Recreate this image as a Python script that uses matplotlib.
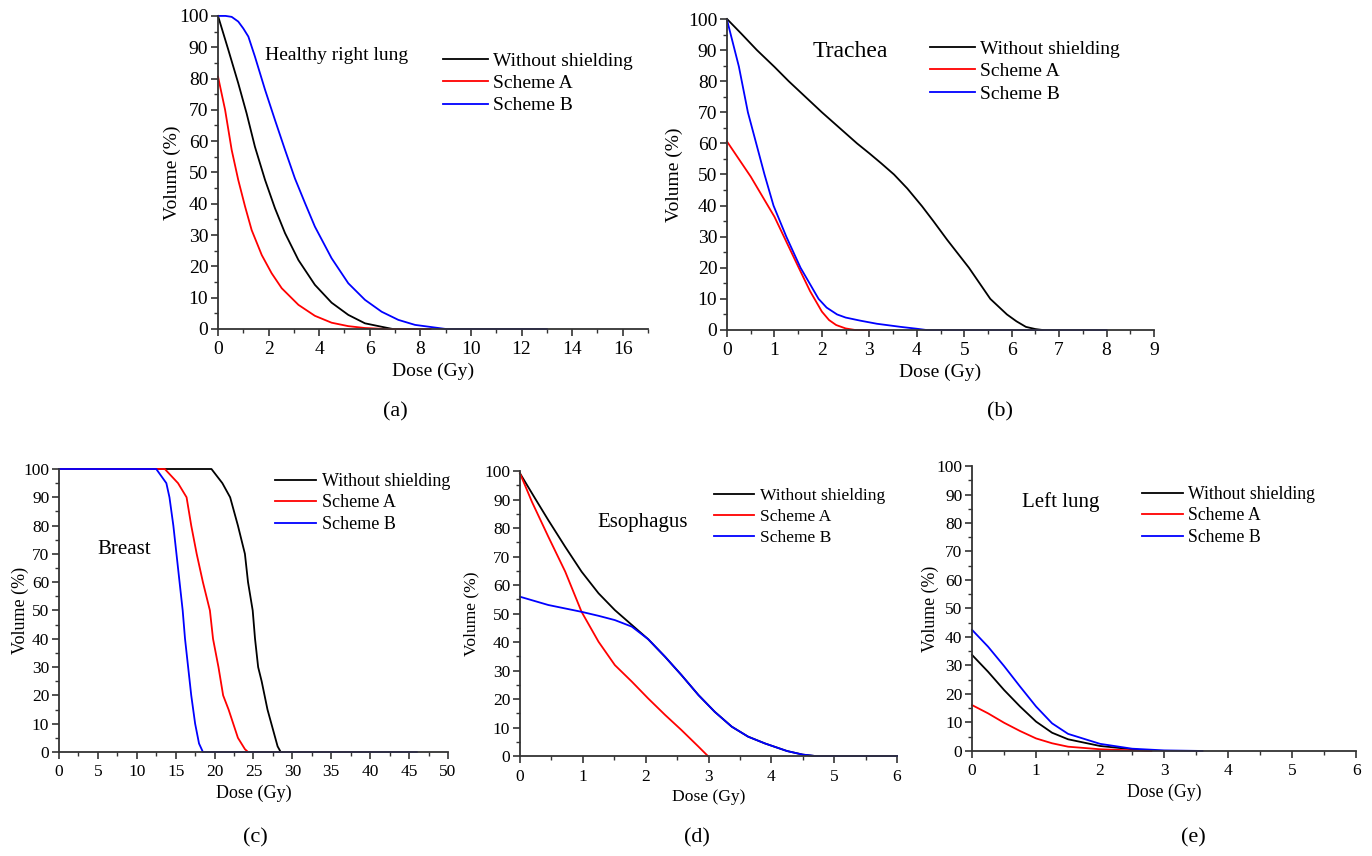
import matplotlib.pyplot as plt
from matplotlib.ticker import MultipleLocator

plt.rcParams['font.family'] = ['Liberation Serif', 'DejaVu Serif']

LABELS = ["Without shielding", "Scheme A", "Scheme B"]
COLORS = ["black", "red", "blue"]

# (a) Healthy right lung
a_dose_none = [0, 0.41, 0.80, 1.13, 1.46, 1.86, 2.25, 2.65, 3.18, 3.83, 4.49, 5.15, 5.81, 6.47, 6.9]
a_vol_none = [100, 89.1, 78.5, 68.9, 58.2, 47.6, 38.6, 30.6, 22, 14.1, 8.4, 4.5, 1.8, 0.7, 0]
a_dose_a = [0, 0.28, 0.54, 0.80, 1.07, 1.33, 1.73, 2.12, 2.52, 3.18, 3.83, 4.49, 5.15, 5.81, 6.6, 8.4]
a_vol_a = [80.6, 70, 57.2, 47.6, 39.1, 31.6, 23.6, 17.8, 13, 7.7, 4.2, 2.0, 0.9, 0.3, 0, 0]
a_dose_b = [0, 0.3, 0.54, 0.80, 1.0, 1.2, 1.46, 1.86, 2.25, 2.65, 3.04, 3.44, 3.83, 4.49,
            5.15, 5.81, 6.47, 7.13, 7.79, 8.44, 9.0, 13.0]
a_vol_b = [100, 100, 99.7, 98.2, 96, 93.4, 87, 76.4, 66.8, 57.2, 48.1, 40.2, 32.7, 22.6,
           14.6, 9.3, 5.5, 2.9, 1.3, 0.6, 0, 0]

# (b) Trachea
b_dose_none = [0, 0.3, 0.63, 1.0, 1.3, 1.65, 2.0, 2.74, 3.0, 3.25, 3.52, 3.8, 4.11, 4.35,
               4.64, 5.1, 5.55, 5.9, 6.1, 6.3, 6.5, 6.65]
b_vol_none = [100, 95.3, 90, 84.6, 80, 75, 70, 60, 56.8, 53.6, 50.0, 45.5, 39.8, 35,
              29, 20, 10, 5, 2.8, 1, 0.3, 0]
b_dose_a = [0, 0.5, 1, 1.5, 1.75, 2, 2.15, 2.3, 2.5, 2.7, 3.0]
b_vol_a = [60.6, 49.3, 36.4, 20.4, 12.5, 5.9, 3.2, 1.6, 0.5, 0, 0]
b_dose_b = [0, 0.25, 0.44, 0.79, 0.98, 1.25, 1.55, 1.93, 2.1, 2.32, 2.5, 2.81, 3.16, 3.66, 4.0, 4.2, 8.0]
b_vol_b = [99.7, 84.7, 70, 50, 40, 30, 20, 10, 7.2, 5, 4.0, 3, 2, 1, 0.4, 0, 0]

# (c) Breast
c_dose_none = [0, 19.6, 21.0, 22.0, 23.0, 23.9, 24.3, 24.9, 25.2, 25.6, 26.05, 26.8, 27.3, 27.8, 28.1, 28.5, 40]
c_vol_none = [100, 100, 95, 90, 80, 70, 60, 50, 40, 30, 25, 15, 10, 5, 2, 0, 0]
c_dose_a = [0, 13.6, 15.3, 16.4, 17.0, 17.7, 18.5, 19.4, 19.8, 20.5, 21.1, 21.8, 22.4, 23.0, 23.9, 24.3, 40]
c_vol_a = [100, 100, 95, 90, 80, 70, 60, 50, 40, 30, 20, 15, 10, 5, 1, 0, 0]
c_dose_b = [0, 12.5, 13.8, 14.2, 14.7, 15.1, 15.5, 15.9, 16.2, 16.6, 17.0, 17.5, 18.0, 18.5, 46]
c_vol_b = [100, 100, 95, 90, 80, 70, 60, 50, 40, 30, 20, 10, 3, 0, 0]

# (d) Esophagus
d_dose_none = [0, 0.24, 0.45, 0.72, 0.98, 1.25, 1.51, 1.78, 2.04, 2.31, 2.57, 2.84, 3.10,
               3.37, 3.63, 3.90, 4.25, 4.5, 4.7, 6]
d_vol_none = [99.2, 90.4, 82.8, 73.4, 64.7, 57.1, 51.2, 46, 41.0, 34.8, 28.4, 21.4, 15.5,
              10.3, 6.8, 4.4, 1.75, 0.5, 0, 0]
d_dose_a = [0, 0.19, 0.45, 0.72, 0.98, 1.25, 1.51, 1.78, 2.04, 2.31, 2.57, 2.84, 2.99]
d_vol_a = [99.2, 89.2, 77, 64.7, 50.6, 40.1, 31.9, 26.1, 20.2, 14.4, 9.1, 3.3, 0]
d_dose_b = [0, 0.45, 0.98, 1.25, 1.51, 1.78, 2.04, 2.31, 2.57, 2.84, 3.10, 3.37, 3.63,
            3.90, 4.25, 4.5, 4.7, 6]
d_vol_b = [55.9, 53, 50.6, 49.2, 47.7, 45.4, 41.0, 34.8, 28.4, 21.4, 15.5, 10.3, 6.8,
           4.4, 1.75, 0.5, 0, 0]

# (e) Left lung
e_dose_none = [0, 0.25, 0.5, 0.75, 1, 1.25, 1.5, 2, 2.5, 2.8]
e_vol_none = [33.7, 27.8, 21.4, 15.6, 10.3, 6.4, 4.1, 1.75, 0.6, 0]
e_dose_a = [0, 0.25, 0.5, 0.75, 1, 1.25, 1.5, 2, 2.5, 2.8]
e_vol_a = [16.1, 13.2, 9.9, 7.0, 4.4, 2.7, 1.5, 0.6, 0.2, 0]
e_dose_b = [0, 0.25, 0.5, 0.75, 1, 1.25, 1.5, 2, 2.5, 3, 3.6]
e_vol_b = [42.5, 36.6, 29.8, 22.6, 15.6, 9.7, 6.0, 2.5, 0.8, 0.2, 0]

panels = [
    # rect, xmax, major, minor, series, name, name_xy, name_fs, leg_xy, fs, tick_fs, tag, tag_xy, ypad
    ([0.1589, 0.6157, 0.3134, 0.3657], 17, 2, 1,
     [(a_dose_none, a_vol_none), (a_dose_a, a_vol_a), (a_dose_b, a_vol_b)],
     "Healthy right lung", (0.109, 0.875), 14, (0.523, 0.885), 14, 14, "(a)", (395, 412), -1.6),
    ([0.5299, 0.6145, 0.3112, 0.3633], 9, 1, 0.5,
     [(b_dose_none, b_vol_none), (b_dose_a, b_vol_a), (b_dose_b, b_vol_b)],
     "Trachea", (0.201, 0.894), 17, (0.475, 0.932), 14, 14, "(b)", (1000, 412), 3.4),
    ([0.0430, 0.1215, 0.2835, 0.3306], 50, 5, 2.5,
     [(c_dose_none, c_vol_none), (c_dose_a, c_vol_a), (c_dose_b, c_vol_b)],
     "Breast", (0.098, 0.714), 15, (0.555, 0.986), 13, 12.5, "(c)", (255, 838), -3.8),
    ([0.3790, 0.1168, 0.2748, 0.3329], 6, 1, 0.5,
     [(d_dose_none, d_vol_none), (d_dose_a, d_vol_a), (d_dose_b, d_vol_b)],
     "Esophagus", (0.204, 0.818), 15, (0.515, 0.940), 12.6, 12.5, "(d)", (697, 838), 3.4),
    ([0.7085, 0.1227, 0.2799, 0.3329], 6, 1, 0.5,
     [(e_dose_none, e_vol_none), (e_dose_a, e_vol_a), (e_dose_b, e_vol_b)],
     "Left lung", (0.130, 0.874), 15, (0.443, 0.930), 12.8, 12.5, "(e)", (1193, 838), -1.6),
]

fig = plt.figure(figsize=(13.72, 8.56), dpi=100)

for (rect, xmax, major, minor, series, name, name_xy, name_fs,
     leg_xy, fs, tick_fs, tag, tag_xy, ypad) in panels:
    ax = fig.add_axes(rect)
    for (x, y), lab, col in zip(series, LABELS, COLORS):
        ax.plot(x, y, color=col, lw=1.3, label=lab, clip_on=False)
    ax.set_xlim(0, xmax)
    ax.set_ylim(0, 100)
    ax.xaxis.set_major_locator(MultipleLocator(major))
    ax.xaxis.set_minor_locator(MultipleLocator(minor))
    ax.yaxis.set_major_locator(MultipleLocator(10))
    ax.yaxis.set_minor_locator(MultipleLocator(5))
    ax.spines['top'].set_visible(False)
    ax.spines['right'].set_visible(False)
    for s in ['left', 'bottom']:
        ax.spines[s].set_linewidth(1.3)
        ax.spines[s].set_color('#333333')
    ax.tick_params(which='major', direction='out', length=5, width=1.2,
                   labelsize=tick_fs, pad=2, color='#333333')
    ax.tick_params(axis='x', which='major', pad=4)
    ax.tick_params(which='minor', direction='out', length=3, width=1.0,
                   color='#333333')
    ax.set_xlabel("Dose (Gy)", fontsize=fs, labelpad=3)
    ax.set_ylabel("Volume (%)", fontsize=fs, labelpad=ypad)
    ax.text(name_xy[0], name_xy[1], name, transform=ax.transAxes,
            fontsize=name_fs, va='center', ha='left')
    ax.legend(loc='upper left', bbox_to_anchor=leg_xy, frameon=False,
              fontsize=fs, handlelength=2.3, handletextpad=0.3,
              labelspacing=0.25, borderpad=0, borderaxespad=0)
    fig.text(tag_xy[0] / 1372, 1 - tag_xy[1] / 856, tag, fontsize=16,
             ha='center', va='center')

fig.savefig("out.png", dpi=100)
